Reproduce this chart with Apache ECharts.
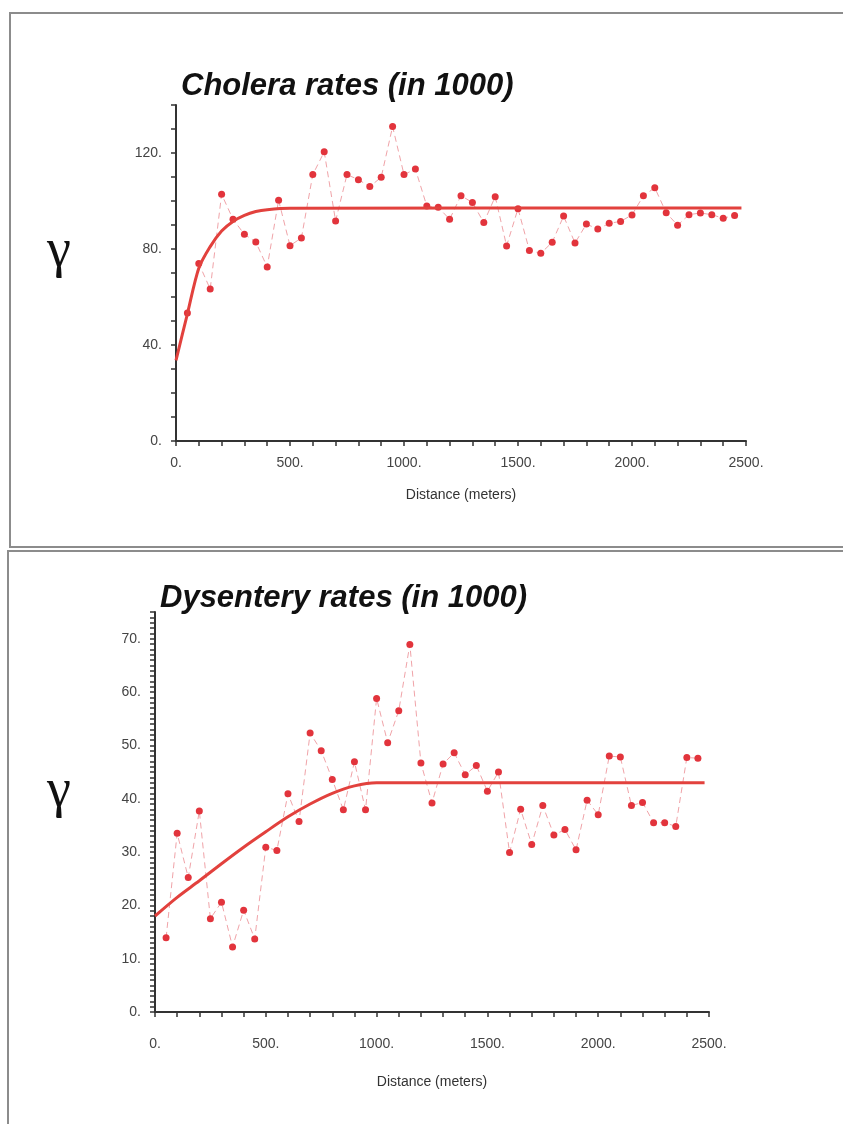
<!DOCTYPE html>
<html>
<head>
<meta charset="utf-8">
<script src="https://cdn.jsdelivr.net/npm/echarts@6/dist/echarts.min.js"></script>
<style>
    html, body { margin: 0; padding: 0; background: #fff; }
    #chart { width: 843px; height: 1124px; }
</style>
</head>
<body>
<div id="chart"></div>
<script>
    var fontFamily = 'Liberation Sans, Arial, Helvetica, sans-serif';

    // distance (m) of every sample lag
    var distances = [50, 100, 150, 200, 250, 300, 350, 400, 450, 500,
        550, 600, 650, 700, 750, 800, 850, 900, 950, 1000,
        1050, 1100, 1150, 1200, 1250, 1300, 1350, 1400, 1450, 1500,
        1550, 1600, 1650, 1700, 1750, 1800, 1850, 1900, 1950, 2000,
        2050, 2100, 2150, 2200, 2250, 2300, 2350, 2400, 2450];

    // empirical semivariogram, cholera
    var choleraRates = [53.3, 74, 63.3, 102.8, 92.4, 86.1, 82.9, 72.5, 100.3, 81.4,
        84.6, 111, 120.5, 91.7, 111, 108.9, 106, 109.9, 131, 111,
        113.3, 97.9, 97.4, 92.4, 102.2, 99.4, 91, 101.8, 81.3, 96.8,
        79.4, 78.2, 82.8, 93.7, 82.5, 90.4, 88.3, 90.7, 91.5, 94.2,
        102.2, 105.5, 95.1, 89.9, 94.3, 95, 94.3, 92.8, 94];

    // empirical semivariogram, dysentery
    var dysenteryRates = [13.9, 33.5, 25.2, 37.7, 17.5, 20.6, 12.2, 19.1, 13.7, 30.9,
        30.3, 40.9, 35.7, 52.3, 49, 43.6, 37.9, 46.9, 37.9, 58.8,
        50.5, 56.5, 68.9, 46.7, 39.2, 46.5, 48.6, 44.5, 46.2, 41.4,
        45, 29.9, 38, 31.4, 38.7, 33.2, 34.2, 30.4, 39.7, 37,
        48, 47.8, 38.7, 39.3, 35.5, 35.5, 34.8, 47.7, 47.6];

    // fitted model curves
    var choleraFitX = [0, 50, 100, 150, 200, 250, 300, 350, 400, 500, 2480];
    var choleraFitY = [33.6, 53, 72, 81, 87.5, 91.5, 94, 95.6, 96.4, 97, 97.1];
    var dysenteryFitX = [0, 100, 200, 300, 400, 500, 600, 700, 800, 900, 1000, 1100, 2480];
    var dysenteryFitY = [18, 21.5, 24.6, 27.8, 30.9, 33.8, 36.6, 39, 41, 42.4, 43, 43, 43];

    var titles = ['Cholera rates (in 1000)', 'Dysentery rates (in 1000)'];
    var xName = 'Distance (meters)';

    function pairs(xs, ys) {
        return xs.map(function (x, i) { return [x, ys[i]]; });
    }

    function xAxisFor(gridIndex, gap, margin) {
        return {
            type: 'value', gridIndex: gridIndex, min: 0, max: 2500, interval: 100,
            name: xName, nameLocation: 'middle', nameGap: gap,
            nameTextStyle: { color: '#333', fontSize: 14, fontFamily: fontFamily },
            axisLine: { onZero: false, lineStyle: { color: '#333', width: 2 } },
            axisTick: { show: true, length: 5, lineStyle: { color: '#333', width: 1.5 } },
            axisLabel: {
                margin: margin, color: '#444', fontSize: 14, fontFamily: fontFamily,
                formatter: function (v) { return v % 500 === 0 ? v + '.' : ''; }
            },
            splitLine: { show: false }
        };
    }

    function yAxisFor(gridIndex, max, interval, labelStep) {
        return {
            type: 'value', gridIndex: gridIndex, min: 0, max: max, interval: interval,
            axisLine: { show: true, onZero: false, lineStyle: { color: '#333', width: 2 } },
            axisTick: { show: true, length: 5, lineStyle: { color: '#333', width: 1.5 } },
            axisLabel: {
                margin: 14, color: '#444', fontSize: 14, fontFamily: fontFamily,
                formatter: function (v) { return Math.round(v) % labelStep === 0 ? Math.round(v) + '.' : ''; }
            },
            splitLine: { show: false }
        };
    }

    function pointSeries(idx, values) {
        return {
            type: 'line', xAxisIndex: idx, yAxisIndex: idx,
            data: pairs(distances, values),
            symbol: 'circle', symbolSize: 7,
            itemStyle: { color: '#e2343c' },
            lineStyle: { color: '#f0a3a8', width: 1, type: [6, 4] },
            z: 3
        };
    }

    function fitSeries(idx, xs, ys) {
        return {
            type: 'line', xAxisIndex: idx, yAxisIndex: idx,
            data: pairs(xs, ys), smooth: 0.3, showSymbol: false,
            lineStyle: { color: '#e2413d', width: 3 },
            z: 4
        };
    }

    var chart = echarts.init(document.getElementById('chart'));

    var titleStyle = { color: '#111', fontSize: 31, fontWeight: 'bold', fontStyle: 'italic', fontFamily: fontFamily };
    var gammaFont = '54px Liberation Serif, Times New Roman, serif';

    var option = {
        backgroundColor: '#ffffff',
        animation: false,
        title: [
            { text: titles[0], left: 176, top: 66, textStyle: titleStyle },
            { text: titles[1], left: 155, top: 578, textStyle: titleStyle }
        ],
        grid: [
            { left: 176, top: 105, width: 570, height: 336 },
            { left: 155, top: 612, width: 554, height: 400 }
        ],
        xAxis: [xAxisFor(0, 47, 15), xAxisFor(1, 63, 25)],
        yAxis: [yAxisFor(0, 140, 10, 40), yAxisFor(1, 75, 1, 10)],
        series: [
            pointSeries(0, choleraRates),
            fitSeries(0, choleraFitX, choleraFitY),
            pointSeries(1, dysenteryRates),
            fitSeries(1, dysenteryFitX, dysenteryFitY)
        ],
        graphic: [
            { type: 'rect', shape: { x: 10, y: 13, width: 845, height: 534 },
              style: { fill: 'none', stroke: '#8c8c8c', lineWidth: 2 }, silent: true },
            { type: 'rect', shape: { x: 8, y: 551, width: 845, height: 600 },
              style: { fill: 'none', stroke: '#8c8c8c', lineWidth: 2 }, silent: true },
            { type: 'text', x: 59, y: 252,
              style: { text: 'γ', font: gammaFont, fill: '#111', align: 'center', verticalAlign: 'middle' } },
            { type: 'text', x: 59, y: 792,
              style: { text: 'γ', font: gammaFont, fill: '#111', align: 'center', verticalAlign: 'middle' } }
        ]
    };

    chart.setOption(option);
</script>
</body>
</html>
